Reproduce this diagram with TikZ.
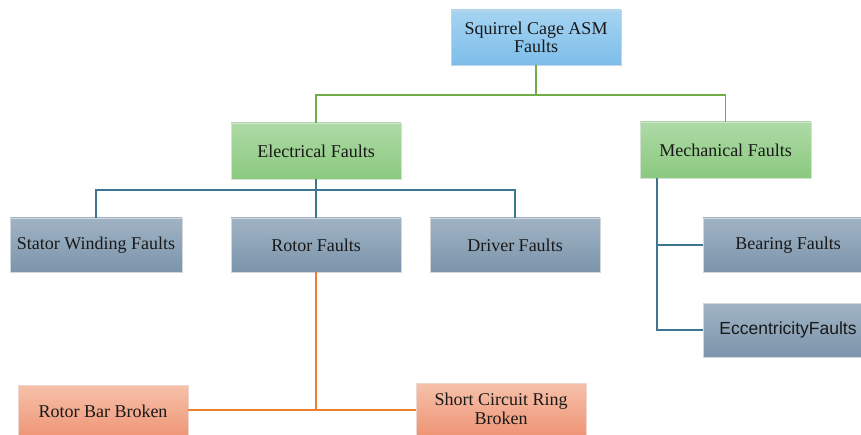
\documentclass[tikz,border=0pt]{standalone}
\usepackage{fontspec}
\setmainfont{Liberation Serif}
\newfontfamily\arialfont{Liberation Sans}
\usetikzlibrary{shadows}
\definecolor{topA}{HTML}{A6D4F2}
\definecolor{topB}{HTML}{7DBDEA}
\definecolor{grnA}{HTML}{AEDAA6}
\definecolor{grnB}{HTML}{8BC97F}
\definecolor{gryA}{HTML}{A0B3C4}
\definecolor{gryB}{HTML}{7C95AB}
\definecolor{orgA}{HTML}{F6C1AA}
\definecolor{orgB}{HTML}{EF9576}
\definecolor{lnGreen}{HTML}{70AD47}
\definecolor{lnBlue}{HTML}{3E7590}
\definecolor{lnOrange}{HTML}{ED7D31}
\tikzset{
  x=1pt, y=-1pt,
  box/.style={minimum width=170pt, minimum height=54pt, inner sep=2pt,
    align=center, font=\fontsize{18}{18.5}\selectfont, text=black!90,
    drop shadow={shadow xshift=1pt, shadow yshift=-1pt, fill=black!25, opacity=0.5}},
  topbox/.style={box, top color=topA, bottom color=topB, draw=topB!80!black!40},
  grnbox/.style={box, top color=grnA, bottom color=grnB, draw=grnB!80!black!30},
  grybox/.style={box, top color=gryA, bottom color=gryB, draw=gryB!80!black!30},
  orgbox/.style={box, top color=orgA, bottom color=orgB, draw=orgB!80!black!30},
  link/.style={line width=1.3pt},
}
\begin{document}
\begin{tikzpicture}
\useasboundingbox (0,0) rectangle (861,435);
% tree of boxes
\node[topbox, minimum height=55pt] (root) at (536,37.5) {Squirrel Cage ASM\\Faults};
\node[grnbox, minimum height=56pt] (elec) at (316,151) {Electrical Faults};
\node[grnbox, minimum height=56pt, minimum width=171pt] (mech) at (725.5,150) {Mechanical Faults};
\node[grybox, minimum width=172pt] (stat) at (96,245) {Stator Winding Faults};
\node[grybox] (rotor) at (316,245) {Rotor Faults};
\node[grybox] (drive) at (515,245) {Driver Faults};
\node[grybox, minimum width=170pt] (bear) at (788,245) {Bearing Faults};
\node[grybox, minimum width=170pt, font=\arialfont\fontsize{17.5}{18}\selectfont] (ecc) at (788,330) {EccentricityFaults};
\node[orgbox, minimum height=52pt] (bar) at (103,411) {Rotor Bar Broken};
\node[orgbox, minimum height=52pt] (ring) at (501,409) {Short Circuit Ring\\Broken};
% connectors
\coordinate (gbus) at (0,95);
\draw[link, lnGreen] (root.south) |- (gbus -| elec.north) -- (elec.north);
\draw[link, lnGreen] (root.south) |- (gbus -| mech.north) -- (mech.north);
\coordinate (bbus) at (0,190);
\draw[link, lnBlue] (elec.south) -- (rotor.north);
\draw[link, lnBlue] (elec.south) |- (bbus -| stat.north) -- (stat.north);
\draw[link, lnBlue] (elec.south) |- (bbus -| drive.north) -- (drive.north);
\coordinate (mleg) at (657,178);
\draw[link, lnBlue] (mleg) |- (ecc.west);
\draw[link, lnBlue] (mleg |- bear.west) -- (bear.west);
\coordinate (obus) at (316,410);
\draw[link, lnOrange] (rotor.south) -- (obus);
\draw[link, lnOrange] (bar.east |- obus) -- (ring.west |- obus);
\end{tikzpicture}
\end{document}
